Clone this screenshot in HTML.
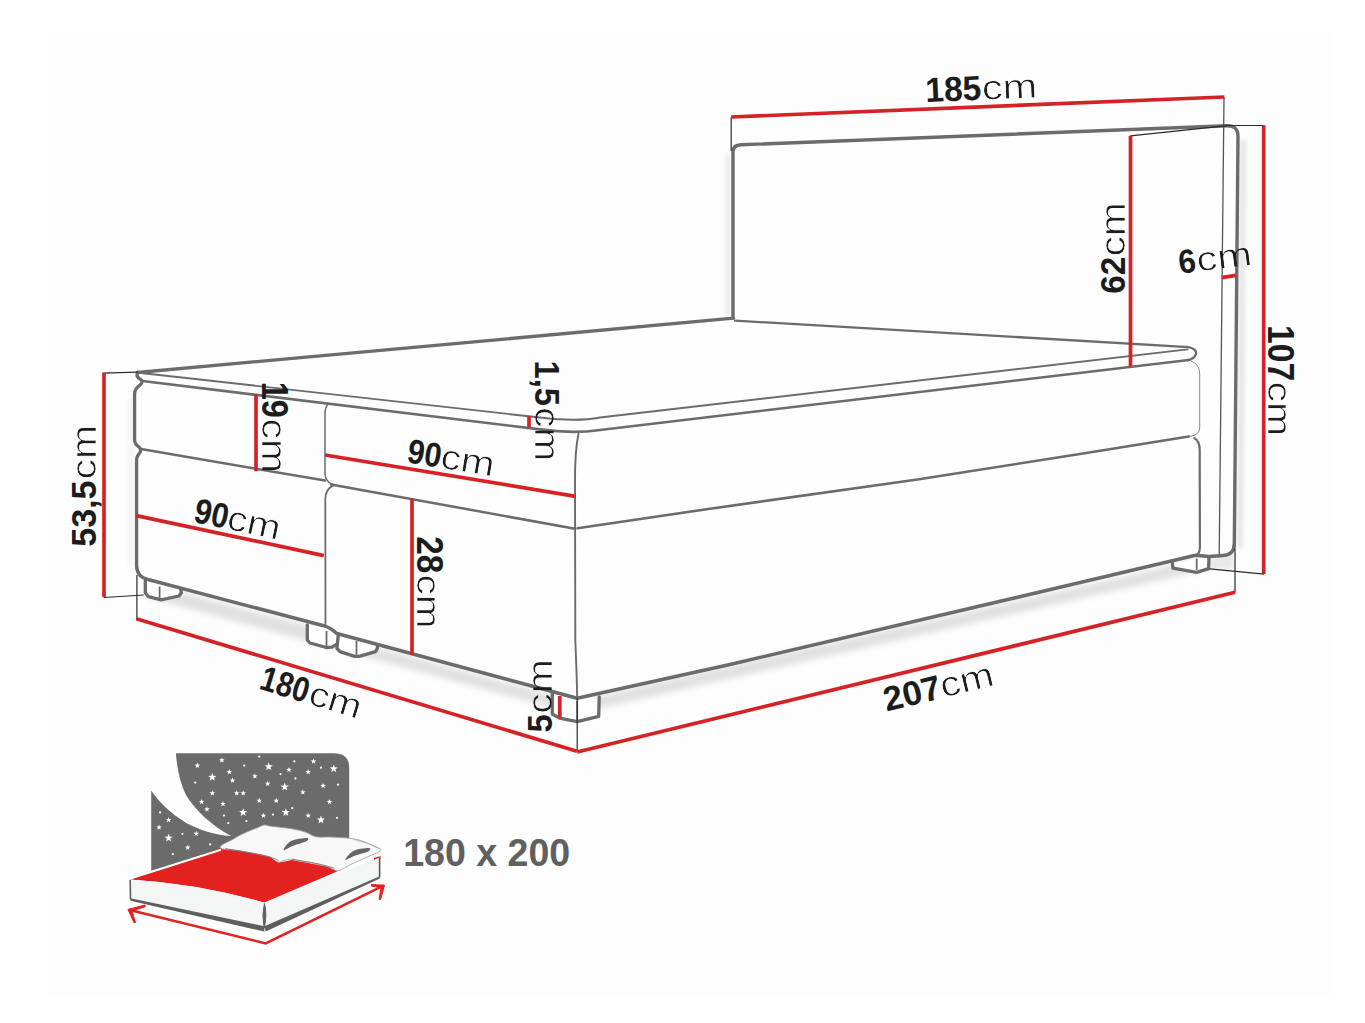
<!DOCTYPE html>
<html><head><meta charset="utf-8"><style>
html,body{margin:0;padding:0;background:#fff;}
body{width:1365px;height:1023px;overflow:hidden;font-family:"Liberation Sans",sans-serif;}
svg{display:block;}
</style></head><body>
<svg width="1365" height="1023" viewBox="0 0 1365 1023">
<rect width="1365" height="1023" fill="#ffffff"/>
<rect x="48" y="33" width="1284" height="962" fill="#fdfdfd"/>
<defs>
<filter id="blur3" x="-10%" y="-50%" width="120%" height="200%"><feGaussianBlur stdDeviation="3"/></filter>
<filter id="blur2" x="-10%" y="-50%" width="120%" height="200%"><feGaussianBlur stdDeviation="2"/></filter>
</defs>
<g filter="url(#blur3)" opacity="0.42">
<path d="M150 584 L325 630 L333 636 L575 701 L1196 560 L1196 572 L575 714 L333 648 L150 598 Z" fill="#b8b8b8"/>
</g>
<g filter="url(#blur2)" opacity="0.45">
<path d="M129 398 L133 398 L133 565 L129 565 Z" fill="#e2e2e2"/>
<path d="M726 155 L730 155 L730 316 L726 316 Z" fill="#c8c8c8"/>
<path d="M1240 140 L1246 140 L1243 548 L1237 548 Z" fill="#c8c8c8"/>
<path d="M1209 558 L1233 552 L1234 569 L1209 568.6 Z" fill="#cfcfcf"/>
</g>
<path d="M145.30 580.50 L145.30 592.80 L148.50 596.70 L161.00 599.90 L179.00 596.00 L181.30 592.80 L180.80 589.50 Z" fill="#fff"/>
<path d="M145.30 580.50 L145.30 592.80 L148.50 596.70 L161.00 599.90 L179.00 596.00 L181.30 592.80 L180.80 589.50" fill="none" stroke="#6b6b6b" stroke-width="3.30" stroke-linejoin="round" stroke-linecap="round" />
<line x1="159.60" y1="586.50" x2="159.60" y2="598.50" stroke="#6b6b6b" stroke-width="1.80"/>
<path d="M307.30 625.00 L307.30 640.00 L310.00 643.00 L326.30 647.50 L331.90 647.10 L337.50 643.90 L336.00 632.50 L331.50 630.00 L326.50 626.80 Z" fill="#fff"/>
<path d="M307.30 625.00 L307.30 640.00 L310.00 643.00 L326.30 647.50 L331.90 647.10 L337.50 643.90" fill="none" stroke="#6b6b6b" stroke-width="3.30" stroke-linejoin="round" stroke-linecap="round" />
<line x1="326.50" y1="631.00" x2="326.50" y2="647.00" stroke="#6b6b6b" stroke-width="1.80"/>
<path d="M338.30 634.50 L337.00 648.30 L340.00 651.60 L354.50 656.40 L359.30 656.40 L375.40 651.60 L377.40 648.30 L377.40 644.70 Z" fill="#fff"/>
<path d="M338.30 634.50 L337.00 648.30 L340.00 651.60 L354.50 656.40 L359.30 656.40 L375.40 651.60 L377.40 648.30 L377.40 644.70" fill="none" stroke="#6b6b6b" stroke-width="3.30" stroke-linejoin="round" stroke-linecap="round" />
<line x1="356.50" y1="641.00" x2="356.50" y2="655.00" stroke="#6b6b6b" stroke-width="1.80"/>
<path d="M552.30 691.70 L552.30 714.00 L559.40 718.10 L577.20 721.60 L598.70 716.30 L599.20 697.00 Z" fill="#fff"/>
<path d="M552.30 691.70 L552.30 714.00 L559.40 718.10 L577.20 721.60 L598.70 716.30 L599.20 697.00" fill="none" stroke="#6b6b6b" stroke-width="3.30" stroke-linejoin="round" stroke-linecap="round" />
<line x1="577.20" y1="701.00" x2="577.20" y2="720.00" stroke="#6b6b6b" stroke-width="1.80"/>
<path d="M1172.40 563.30 L1172.90 568.10 L1196.70 572.40 L1208.60 568.60 L1209.00 557.60 Z" fill="#fff"/>
<path d="M1172.40 563.30 L1172.90 568.10 L1196.70 572.40 L1208.60 568.60 L1209.00 557.60" fill="none" stroke="#6b6b6b" stroke-width="3.30" stroke-linejoin="round" stroke-linecap="round" />
<line x1="1196.70" y1="558.60" x2="1196.70" y2="570.00" stroke="#6b6b6b" stroke-width="1.80"/>
<path d="M733 318 L733 152 Q733 145 741 144.8 L1227 125.8 Q1238 125.5 1238 136 L1234.3 546" fill="none" stroke="#6b6b6b" stroke-width="3.40" stroke-linejoin="round" stroke-linecap="round" />
<line x1="1224.00" y1="97.00" x2="1219.20" y2="556.00" stroke="#555" stroke-width="1.30"/>
<path d="M137.50 372.50 L733.50 318.20" fill="none" stroke="#6b6b6b" stroke-width="3.30" stroke-linejoin="round" stroke-linecap="round" />
<path d="M735 320.6 L1188.5 347.1 Q1197 349 1196 354 Q1194 359 1188 360.2" fill="none" stroke="#6b6b6b" stroke-width="2.30" stroke-linejoin="round" stroke-linecap="round" />
<path d="M141 373 L540 417.5 Q577 422 600 417.5 L1187.5 349.4" fill="none" stroke="#6b6b6b" stroke-width="1.90" stroke-linejoin="round" stroke-linecap="round" />
<path d="M142.5 381 L540 429.4 Q572 434 600 430 L1188.75 360" fill="none" stroke="#6b6b6b" stroke-width="2.60" stroke-linejoin="round" stroke-linecap="round" />
<path d="M137.8 372.3 C136.3 375 137 377.5 140.2 379.2 C143.2 381 142.3 383.5 139.3 385.6 C135.6 388.3 134.6 390.5 134.6 394 L134.6 440 C134.6 443 136.2 445.2 139.2 447.2 C141.3 449 140.8 452 138.6 454.3 C137 456 136.6 457.5 136.6 461 L136.6 566 Q137 577 148 579.5" fill="none" stroke="#6b6b6b" stroke-width="3.30" stroke-linejoin="round" stroke-linecap="round" />
<path d="M148 579.5 L325.6 626.3 Q331 628 336.8 633.5 L577.2 698.2" fill="none" stroke="#6b6b6b" stroke-width="3.50" stroke-linejoin="round" stroke-linecap="round" />
<path d="M577.2 698.2 L730 664.5 L1060 587.3 L1195.7 555.3 L1209 556.4 L1223.5 555.4 Q1233.8 554.5 1234.2 545" fill="none" stroke="#6b6b6b" stroke-width="3.50" stroke-linejoin="round" stroke-linecap="round" />
<path d="M1191 361 Q1199.7 364 1199.7 374 L1199.7 428 Q1199.5 435 1190 436.5" fill="none" stroke="#8a8a8a" stroke-width="1.00" stroke-linejoin="round" stroke-linecap="round" />
<path d="M1194.4 438.2 Q1199.7 441 1199.7 450 L1199.9 546.9 Q1199.9 554 1195.5 555.7" fill="none" stroke="#6b6b6b" stroke-width="2.20" stroke-linejoin="round" stroke-linecap="round" />
<path d="M141.00 449.00 L325.00 480.60" fill="none" stroke="#6b6b6b" stroke-width="2.50" stroke-linejoin="round" stroke-linecap="round" />
<path d="M331 484.4 L575 528.8" fill="none" stroke="#6b6b6b" stroke-width="2.50" stroke-linejoin="round" stroke-linecap="round" />
<path d="M577.50 528.20 L710.00 508.75 L917.50 479.50 L1080.00 454.00 L1188.75 436.50" fill="none" stroke="#6b6b6b" stroke-width="2.60" stroke-linejoin="round" stroke-linecap="round" />
<path d="M327.5 404.4 Q325 408 325 414 L325 474 Q325.5 482 333 484.4" fill="none" stroke="#6b6b6b" stroke-width="1.50" stroke-linejoin="round" stroke-linecap="round" />
<path d="M333 485.6 Q325.5 489 325.3 499 L325.5 626" fill="none" stroke="#6b6b6b" stroke-width="1.80" stroke-linejoin="round" stroke-linecap="round" />
<path d="M578.5 434 Q575 450 575 480 L575.3 640 Q576.8 675 577.2 698" fill="none" stroke="#6b6b6b" stroke-width="1.90" stroke-linejoin="round" stroke-linecap="round" />
<line x1="731.20" y1="117.00" x2="731.20" y2="151.00" stroke="#2a2a2a" stroke-width="1.20"/>
<line x1="1130.40" y1="135.80" x2="1227.50" y2="125.60" stroke="#2a2a2a" stroke-width="1.20"/>
<line x1="1227.50" y1="125.50" x2="1264.30" y2="125.50" stroke="#2a2a2a" stroke-width="1.20"/>
<line x1="1209.60" y1="568.90" x2="1264.10" y2="574.10" stroke="#2a2a2a" stroke-width="1.20"/>
<line x1="102.50" y1="373.20" x2="137.50" y2="372.20" stroke="#2a2a2a" stroke-width="1.20"/>
<line x1="103.70" y1="597.50" x2="143.70" y2="595.00" stroke="#2a2a2a" stroke-width="1.20"/>
<line x1="136.90" y1="575.00" x2="136.90" y2="619.00" stroke="#2a2a2a" stroke-width="1.20"/>
<line x1="577.20" y1="698.00" x2="577.20" y2="751.00" stroke="#2a2a2a" stroke-width="1.20"/>
<line x1="1235.00" y1="548.60" x2="1235.00" y2="592.60" stroke="#2a2a2a" stroke-width="1.20"/>
<line x1="731.20" y1="117.00" x2="1224.30" y2="97.00" stroke="#d42226" stroke-width="3.70"/>
<line x1="1130.50" y1="135.80" x2="1130.50" y2="366.30" stroke="#d42226" stroke-width="3.70"/>
<line x1="1221.70" y1="277.70" x2="1235.70" y2="275.40" stroke="#d42226" stroke-width="3.70"/>
<line x1="1263.70" y1="125.30" x2="1263.70" y2="574.10" stroke="#d42226" stroke-width="3.70"/>
<line x1="104.00" y1="373.00" x2="104.00" y2="597.00" stroke="#d42226" stroke-width="3.70"/>
<line x1="256.00" y1="394.40" x2="256.00" y2="471.20" stroke="#d42226" stroke-width="3.70"/>
<line x1="529.00" y1="416.00" x2="529.00" y2="427.50" stroke="#d42226" stroke-width="3.70"/>
<line x1="136.30" y1="515.60" x2="323.80" y2="555.60" stroke="#d42226" stroke-width="3.70"/>
<line x1="325.00" y1="455.00" x2="575.60" y2="496.30" stroke="#d42226" stroke-width="3.70"/>
<line x1="412.00" y1="498.80" x2="412.00" y2="655.00" stroke="#d42226" stroke-width="3.70"/>
<line x1="559.80" y1="696.00" x2="559.80" y2="718.00" stroke="#d42226" stroke-width="3.70"/>
<line x1="136.30" y1="618.80" x2="577.00" y2="751.30" stroke="#d42226" stroke-width="3.70"/>
<line x1="577.20" y1="752.00" x2="1235.10" y2="592.30" stroke="#d42226" stroke-width="3.70"/>
<g transform="translate(927.90 102.00) rotate(-2.30)">
<text x="-2.12" y="0" font-family="Liberation Sans" font-weight="bold" font-size="34.57" fill="#1c1c1c" textLength="56.05" lengthAdjust="spacingAndGlyphs">185</text>
<mask id="mk67"><text x="54.38" y="0" font-family="Liberation Sans" font-size="34.76" fill="#fff" stroke="#000" stroke-width="0.70" textLength="55.41" lengthAdjust="spacingAndGlyphs">cm</text></mask>
<text x="54.38" y="0" font-family="Liberation Sans" font-size="34.76" fill="#1c1c1c" textLength="55.41" lengthAdjust="spacingAndGlyphs" mask="url(#mk67)">cm</text>
</g>
<g transform="translate(1180.90 273.70) rotate(-7.00)">
<text x="-1.15" y="0" font-family="Liberation Sans" font-weight="bold" font-size="33.57" fill="#1c1c1c" textLength="17.49" lengthAdjust="spacingAndGlyphs">6</text>
<mask id="mk72"><text x="17.08" y="0" font-family="Liberation Sans" font-size="33.83" fill="#fff" stroke="#000" stroke-width="0.70" textLength="55.62" lengthAdjust="spacingAndGlyphs">cm</text></mask>
<text x="17.08" y="0" font-family="Liberation Sans" font-size="33.83" fill="#1c1c1c" textLength="55.62" lengthAdjust="spacingAndGlyphs" mask="url(#mk72)">cm</text>
</g>
<g transform="translate(1124.90 292.50) rotate(-90.00)">
<text x="-1.22" y="0" font-family="Liberation Sans" font-weight="bold" font-size="35.57" fill="#1c1c1c" textLength="36.95" lengthAdjust="spacingAndGlyphs">62</text>
<mask id="mk77"><text x="35.92" y="0" font-family="Liberation Sans" font-size="34.76" fill="#fff" stroke="#000" stroke-width="0.70" textLength="54.32" lengthAdjust="spacingAndGlyphs">cm</text></mask>
<text x="35.92" y="0" font-family="Liberation Sans" font-size="34.76" fill="#1c1c1c" textLength="54.32" lengthAdjust="spacingAndGlyphs" mask="url(#mk77)">cm</text>
</g>
<g transform="translate(1268.40 327.20) rotate(90.00)">
<text x="-2.12" y="0" font-family="Liberation Sans" font-weight="bold" font-size="36.86" fill="#1c1c1c" textLength="56.20" lengthAdjust="spacingAndGlyphs">107</text>
<mask id="mk82"><text x="54.21" y="0" font-family="Liberation Sans" font-size="33.83" fill="#fff" stroke="#000" stroke-width="0.70" textLength="54.64" lengthAdjust="spacingAndGlyphs">cm</text></mask>
<text x="54.21" y="0" font-family="Liberation Sans" font-size="33.83" fill="#1c1c1c" textLength="54.64" lengthAdjust="spacingAndGlyphs" mask="url(#mk82)">cm</text>
</g>
<g transform="translate(96.30 545.80) rotate(-90.00)">
<text x="-1.05" y="0" font-family="Liberation Sans" font-weight="bold" font-size="35.29" fill="#1c1c1c" textLength="66.40" lengthAdjust="spacingAndGlyphs">53,5</text>
<mask id="mk87"><text x="66.42" y="0" font-family="Liberation Sans" font-size="35.69" fill="#fff" stroke="#000" stroke-width="0.70" textLength="54.43" lengthAdjust="spacingAndGlyphs">cm</text></mask>
<text x="66.42" y="0" font-family="Liberation Sans" font-size="35.69" fill="#1c1c1c" textLength="54.43" lengthAdjust="spacingAndGlyphs" mask="url(#mk87)">cm</text>
</g>
<g transform="translate(262.10 383.70) rotate(90.00)">
<text x="-2.05" y="0" font-family="Liberation Sans" font-weight="bold" font-size="36.57" fill="#1c1c1c" textLength="36.15" lengthAdjust="spacingAndGlyphs">19</text>
<mask id="mk92"><text x="34.92" y="0" font-family="Liberation Sans" font-size="34.20" fill="#fff" stroke="#000" stroke-width="0.70" textLength="54.43" lengthAdjust="spacingAndGlyphs">cm</text></mask>
<text x="34.92" y="0" font-family="Liberation Sans" font-size="34.20" fill="#1c1c1c" textLength="54.43" lengthAdjust="spacingAndGlyphs" mask="url(#mk92)">cm</text>
</g>
<g transform="translate(534.50 362.50) rotate(90.00)">
<text x="-2.06" y="0" font-family="Liberation Sans" font-weight="bold" font-size="34.57" fill="#1c1c1c" textLength="45.47" lengthAdjust="spacingAndGlyphs">1,5</text>
<mask id="mk97"><text x="44.73" y="0" font-family="Liberation Sans" font-size="34.39" fill="#fff" stroke="#000" stroke-width="0.70" textLength="53.99" lengthAdjust="spacingAndGlyphs">cm</text></mask>
<text x="44.73" y="0" font-family="Liberation Sans" font-size="34.39" fill="#1c1c1c" textLength="53.99" lengthAdjust="spacingAndGlyphs" mask="url(#mk97)">cm</text>
</g>
<g transform="translate(416.80 537.40) rotate(90.00)">
<text x="-1.16" y="0" font-family="Liberation Sans" font-weight="bold" font-size="37.43" fill="#1c1c1c" textLength="37.08" lengthAdjust="spacingAndGlyphs">28</text>
<mask id="mk102"><text x="37.13" y="0" font-family="Liberation Sans" font-size="33.27" fill="#fff" stroke="#000" stroke-width="0.70" textLength="53.99" lengthAdjust="spacingAndGlyphs">cm</text></mask>
<text x="37.13" y="0" font-family="Liberation Sans" font-size="33.27" fill="#1c1c1c" textLength="53.99" lengthAdjust="spacingAndGlyphs" mask="url(#mk102)">cm</text>
</g>
<g transform="translate(551.70 731.40) rotate(-90.00)">
<text x="-1.01" y="0" font-family="Liberation Sans" font-weight="bold" font-size="35.29" fill="#1c1c1c" textLength="18.22" lengthAdjust="spacingAndGlyphs">5</text>
<mask id="mk107"><text x="17.72" y="0" font-family="Liberation Sans" font-size="35.69" fill="#fff" stroke="#000" stroke-width="0.70" textLength="54.43" lengthAdjust="spacingAndGlyphs">cm</text></mask>
<text x="17.72" y="0" font-family="Liberation Sans" font-size="35.69" fill="#1c1c1c" textLength="54.43" lengthAdjust="spacingAndGlyphs" mask="url(#mk107)">cm</text>
</g>
<g transform="translate(193.50 522.00) rotate(12.00)">
<text x="-1.07" y="0" font-family="Liberation Sans" font-weight="bold" font-size="35.00" fill="#1c1c1c" textLength="34.34" lengthAdjust="spacingAndGlyphs">90</text>
<mask id="mk112"><text x="32.74" y="0" font-family="Liberation Sans" font-size="34.76" fill="#fff" stroke="#000" stroke-width="0.70" textLength="53.56" lengthAdjust="spacingAndGlyphs">cm</text></mask>
<text x="32.74" y="0" font-family="Liberation Sans" font-size="34.76" fill="#1c1c1c" textLength="53.56" lengthAdjust="spacingAndGlyphs" mask="url(#mk112)">cm</text>
</g>
<g transform="translate(407.00 462.40) rotate(9.35)">
<text x="-1.06" y="0" font-family="Liberation Sans" font-weight="bold" font-size="34.29" fill="#1c1c1c" textLength="34.01" lengthAdjust="spacingAndGlyphs">90</text>
<mask id="mk117"><text x="32.58" y="0" font-family="Liberation Sans" font-size="34.76" fill="#fff" stroke="#000" stroke-width="0.70" textLength="54.10" lengthAdjust="spacingAndGlyphs">cm</text></mask>
<text x="32.58" y="0" font-family="Liberation Sans" font-size="34.76" fill="#1c1c1c" textLength="54.10" lengthAdjust="spacingAndGlyphs" mask="url(#mk117)">cm</text>
</g>
<g transform="translate(259.70 689.10) rotate(17.00)">
<text x="-1.87" y="0" font-family="Liberation Sans" font-weight="bold" font-size="35.00" fill="#1c1c1c" textLength="49.48" lengthAdjust="spacingAndGlyphs">180</text>
<mask id="mk122"><text x="49.15" y="0" font-family="Liberation Sans" font-size="34.76" fill="#fff" stroke="#000" stroke-width="0.70" textLength="53.45" lengthAdjust="spacingAndGlyphs">cm</text></mask>
<text x="49.15" y="0" font-family="Liberation Sans" font-size="34.76" fill="#1c1c1c" textLength="53.45" lengthAdjust="spacingAndGlyphs" mask="url(#mk122)">cm</text>
</g>
<g transform="translate(887.70 711.30) rotate(-13.70)">
<text x="-1.21" y="0" font-family="Liberation Sans" font-weight="bold" font-size="34.29" fill="#1c1c1c" textLength="58.24" lengthAdjust="spacingAndGlyphs">207</text>
<mask id="mk127"><text x="56.92" y="0" font-family="Liberation Sans" font-size="34.76" fill="#fff" stroke="#000" stroke-width="0.70" textLength="54.21" lengthAdjust="spacingAndGlyphs">cm</text></mask>
<text x="56.92" y="0" font-family="Liberation Sans" font-size="34.76" fill="#1c1c1c" textLength="54.21" lengthAdjust="spacingAndGlyphs" mask="url(#mk127)">cm</text>
</g>
<g id="icon">
<path d="M175.9 753.2 L334 753.2 Q349.2 753.2 349.2 768 L349.2 836 L231.1 836.1 C212 826 195 810 186 795 C180 783 177 768 175.9 753.2 Z" fill="#6b6b6b"/>
<path d="M151.2 790.5 C158 801 170 813 186.2 822.9 C200 830 214 834.5 231.1 836.1 L349.2 836 L349.2 846 L151.2 871 Z" fill="#6b6b6b"/>
<path d="M197.36 762.67 L198.08 764.58 L200.12 764.67 L198.52 765.95 L199.07 767.92 L197.36 766.79 L195.66 767.92 L196.21 765.95 L194.61 764.67 L196.65 764.58 Z" fill="#fff"/>
<path d="M221.87 757.34 L222.58 759.26 L224.63 759.35 L223.03 760.62 L223.57 762.59 L221.87 761.46 L220.16 762.59 L220.71 760.62 L219.11 759.35 L221.15 759.26 Z" fill="#fff"/>
<path d="M268.75 762.34 L269.81 765.17 L272.84 765.31 L270.46 767.19 L271.27 770.11 L268.75 768.44 L266.22 770.11 L267.03 767.19 L264.66 765.31 L267.69 765.17 Z" fill="#fff"/>
<path d="M333.74 764.47 L334.80 767.31 L337.83 767.44 L335.46 769.32 L336.26 772.25 L333.74 770.57 L331.21 772.25 L332.02 769.32 L329.65 767.44 L332.68 767.31 Z" fill="#fff"/>
<path d="M313.49 758.41 L314.21 760.32 L316.25 760.41 L314.65 761.68 L315.20 763.65 L313.49 762.53 L311.79 763.65 L312.34 761.68 L310.74 760.41 L312.78 760.32 Z" fill="#fff"/>
<path d="M212.28 772.99 L213.34 775.83 L216.37 775.96 L214.00 777.85 L214.81 780.77 L212.28 779.10 L209.75 780.77 L210.56 777.85 L208.19 775.96 L211.22 775.83 Z" fill="#fff"/>
<path d="M229.33 769.06 L230.04 770.98 L232.08 771.07 L230.49 772.34 L231.03 774.31 L229.33 773.18 L227.62 774.31 L228.17 772.34 L226.57 771.07 L228.61 770.98 Z" fill="#fff"/>
<path d="M232.52 777.59 L233.24 779.50 L235.28 779.59 L233.68 780.86 L234.23 782.83 L232.52 781.70 L230.82 782.83 L231.36 780.86 L229.76 779.59 L231.81 779.50 Z" fill="#fff"/>
<circle cx="244.2" cy="765.6" r="1.1" fill="#fff"/>
<circle cx="259.2" cy="756.6" r="1.1" fill="#fff"/>
<circle cx="294.3" cy="761.3" r="1.1" fill="#fff"/>
<path d="M288.99 766.93 L289.71 768.85 L291.75 768.94 L290.15 770.21 L290.69 772.18 L288.99 771.05 L287.29 772.18 L287.83 770.21 L286.23 768.94 L288.27 768.85 Z" fill="#fff"/>
<path d="M254.90 773.32 L255.61 775.24 L257.65 775.33 L256.06 776.60 L256.60 778.57 L254.90 777.44 L253.19 778.57 L253.74 776.60 L252.14 775.33 L254.18 775.24 Z" fill="#fff"/>
<path d="M267.68 780.78 L268.40 782.70 L270.44 782.79 L268.84 784.06 L269.39 786.03 L267.68 784.90 L265.98 786.03 L266.52 784.06 L264.92 782.79 L266.97 782.70 Z" fill="#fff"/>
<path d="M284.73 782.58 L285.79 785.42 L288.82 785.55 L286.45 787.44 L287.26 790.36 L284.73 788.68 L282.20 790.36 L283.01 787.44 L280.64 785.55 L283.67 785.42 Z" fill="#fff"/>
<path d="M308.17 769.06 L308.88 770.98 L310.93 771.07 L309.33 772.34 L309.87 774.31 L308.17 773.18 L306.46 774.31 L307.01 772.34 L305.41 771.07 L307.45 770.98 Z" fill="#fff"/>
<path d="M323.08 782.91 L323.80 784.83 L325.84 784.92 L324.24 786.19 L324.79 788.16 L323.08 787.03 L321.38 788.16 L321.92 786.19 L320.33 784.92 L322.37 784.83 Z" fill="#fff"/>
<circle cx="321.0" cy="767.7" r="1.1" fill="#fff"/>
<circle cx="280.5" cy="774.1" r="1.1" fill="#fff"/>
<circle cx="295.4" cy="778.4" r="1.1" fill="#fff"/>
<circle cx="338.0" cy="784.7" r="1.1" fill="#fff"/>
<circle cx="195.2" cy="782.6" r="1.1" fill="#fff"/>
<path d="M212.28 790.37 L213.00 792.29 L215.04 792.37 L213.44 793.65 L213.98 795.62 L212.28 794.49 L210.58 795.62 L211.12 793.65 L209.52 792.37 L211.56 792.29 Z" fill="#fff"/>
<path d="M236.78 790.37 L237.50 792.29 L239.54 792.37 L237.94 793.65 L238.49 795.62 L236.78 794.49 L235.08 795.62 L235.63 793.65 L234.03 792.37 L236.07 792.29 Z" fill="#fff"/>
<path d="M243.18 790.37 L243.89 792.29 L245.94 792.37 L244.34 793.65 L244.88 795.62 L243.18 794.49 L241.47 795.62 L242.02 793.65 L240.42 792.37 L242.46 792.29 Z" fill="#fff"/>
<path d="M259.16 797.83 L259.87 799.74 L261.92 799.83 L260.32 801.11 L260.86 803.07 L259.16 801.95 L257.45 803.07 L258.00 801.11 L256.40 799.83 L258.44 799.74 Z" fill="#fff"/>
<path d="M276.20 797.83 L276.92 799.74 L278.96 799.83 L277.36 801.11 L277.91 803.07 L276.20 801.95 L274.50 803.07 L275.05 801.11 L273.45 799.83 L275.49 799.74 Z" fill="#fff"/>
<path d="M302.84 789.31 L303.56 791.22 L305.60 791.31 L304.00 792.58 L304.54 794.55 L302.84 793.42 L301.14 794.55 L301.68 792.58 L300.08 791.31 L302.12 791.22 Z" fill="#fff"/>
<path d="M329.48 798.89 L330.19 800.81 L332.23 800.90 L330.63 802.17 L331.18 804.14 L329.48 803.01 L327.77 804.14 L328.32 802.17 L326.72 800.90 L328.76 800.81 Z" fill="#fff"/>
<path d="M201.63 798.89 L202.34 800.81 L204.38 800.90 L202.78 802.17 L203.33 804.14 L201.63 803.01 L199.92 804.14 L200.47 802.17 L198.87 800.90 L200.91 800.81 Z" fill="#fff"/>
<path d="M206.95 806.35 L207.67 808.27 L209.71 808.36 L208.11 809.63 L208.66 811.60 L206.95 810.47 L205.25 811.60 L205.79 809.63 L204.19 808.36 L206.24 808.27 Z" fill="#fff"/>
<path d="M222.93 801.02 L223.65 802.94 L225.69 803.03 L224.09 804.30 L224.64 806.27 L222.93 805.14 L221.23 806.27 L221.78 804.30 L220.18 803.03 L222.22 802.94 Z" fill="#fff"/>
<path d="M243.18 808.15 L244.24 810.99 L247.27 811.12 L244.89 813.01 L245.70 815.93 L243.18 814.25 L240.65 815.93 L241.46 813.01 L239.09 811.12 L242.12 810.99 Z" fill="#fff"/>
<path d="M263.42 812.74 L264.14 814.66 L266.18 814.75 L264.58 816.02 L265.12 817.99 L263.42 816.86 L261.72 817.99 L262.26 816.02 L260.66 814.75 L262.70 814.66 Z" fill="#fff"/>
<path d="M285.79 808.15 L286.86 810.99 L289.88 811.12 L287.51 813.01 L288.32 815.93 L285.79 814.25 L283.27 815.93 L284.08 813.01 L281.70 811.12 L284.73 810.99 Z" fill="#fff"/>
<path d="M308.17 812.74 L308.88 814.66 L310.93 814.75 L309.33 816.02 L309.87 817.99 L308.17 816.86 L306.46 817.99 L307.01 816.02 L305.41 814.75 L307.45 814.66 Z" fill="#fff"/>
<path d="M320.95 815.61 L322.01 818.45 L325.04 818.58 L322.67 820.46 L323.48 823.39 L320.95 821.71 L318.43 823.39 L319.23 820.46 L316.86 818.58 L319.89 818.45 Z" fill="#fff"/>
<circle cx="336.9" cy="817.8" r="1.1" fill="#fff"/>
<circle cx="292.2" cy="808.2" r="1.1" fill="#fff"/>
<circle cx="273.0" cy="814.6" r="1.1" fill="#fff"/>
<circle cx="246.4" cy="821.0" r="1.1" fill="#fff"/>
<circle cx="228.3" cy="823.1" r="1.1" fill="#fff"/>
<circle cx="224.0" cy="815.6" r="1.1" fill="#fff"/>
<circle cx="160.1" cy="812.4" r="1.1" fill="#fff"/>
<path d="M168.60 817.01 L169.31 818.92 L171.36 819.01 L169.76 820.28 L170.30 822.25 L168.60 821.12 L166.89 822.25 L167.44 820.28 L165.84 819.01 L167.88 818.92 Z" fill="#fff"/>
<path d="M159.01 824.46 L159.73 826.38 L161.77 826.47 L160.17 827.74 L160.71 829.71 L159.01 828.58 L157.30 829.71 L157.85 827.74 L156.25 826.47 L158.29 826.38 Z" fill="#fff"/>
<path d="M168.60 833.72 L169.66 836.56 L172.69 836.69 L170.32 838.58 L171.13 841.50 L168.60 839.82 L166.07 841.50 L166.88 838.58 L164.51 836.69 L167.54 836.56 Z" fill="#fff"/>
<circle cx="182.4" cy="833.8" r="1.1" fill="#fff"/>
<path d="M196.30 830.86 L197.01 832.77 L199.06 832.86 L197.46 834.13 L198.00 836.10 L196.30 834.97 L194.59 836.10 L195.14 834.13 L193.54 832.86 L195.58 832.77 Z" fill="#fff"/>
<path d="M187.78 844.71 L188.49 846.62 L190.53 846.71 L188.93 847.98 L189.48 849.95 L187.78 848.83 L186.07 849.95 L186.62 847.98 L185.02 846.71 L187.06 846.62 Z" fill="#fff"/>
<circle cx="172.9" cy="854.0" r="1.1" fill="#fff"/>
<circle cx="210.1" cy="844.4" r="1.1" fill="#fff"/>
<path d="M129.9 879.4 L221 848 L241 850.5 L269 856 L279 862.5 L292 860 L327 866.5 L338 871 L333.5 873 L264.4 902.5 Q196 883.3 129.9 879.4 Z" fill="#e3221f"/>
<path d="M374 858 L380.5 856 L380.5 858.5 L374 860.5 Z" fill="#e3221f"/>
<path d="M131 878.2 L221 849.8" stroke="#fff" stroke-width="2"/>
<path d="M129.9 879.6 Q196 883.5 264.4 902.6 L264.4 927.5 L130.5 899.5 Z" fill="#f4f5f5"/>
<path d="M130.2 880 L130.5 899.5" stroke="#5e5e5e" stroke-width="1.6"/>
<path d="M264.4 902.9 L379.8 857.6 L379.8 877 L265.7 928 Z" fill="#f4f5f5"/>
<path d="M379.6 857.6 L379.6 877" stroke="#555" stroke-width="1.6"/>
<path d="M130.5 898.3 L264.4 926.2 L264.4 931.6 L130.5 900.8 Z" fill="#5e5e5e"/>
<path d="M264.4 926.2 L379.8 876.2 L379.8 878.4 L265.7 931.6 Z" fill="#5e5e5e"/>
<path d="M264.4 903.5 Q261.6 915 264.2 928 Q267.4 915 264.4 903.5 Z" fill="#5e5e5e" stroke="#5e5e5e" stroke-width="1"/>
<path d="M220.13 847.05 C220.13 846.13 222.05 845.02 223.97 843.85 C225.90 842.67 228.68 841.60 231.67 840.00 C234.66 838.40 237.65 836.26 241.92 834.23 C246.20 832.20 253.57 829.36 257.31 827.82 C261.05 826.28 262.01 825.26 264.36 825.00 C266.71 824.74 266.82 825.64 271.41 826.28 C276.00 826.92 286.15 827.84 291.92 828.85 C297.69 829.85 301.97 830.98 306.03 832.31 C310.09 833.63 312.22 836.00 316.28 836.79 C320.34 837.59 324.83 836.79 330.38 837.05 C335.94 837.31 344.49 837.74 349.62 838.33 C354.74 838.93 356.67 839.19 361.15 840.64 C365.64 842.09 373.23 845.51 376.54 847.05 C379.85 848.59 380.81 848.97 381.03 849.87 C381.24 850.77 379.85 851.37 377.82 852.44 C375.79 853.50 373.33 854.29 368.85 856.28 C364.36 858.27 355.17 862.31 350.90 864.36 C346.62 866.41 345.45 867.50 343.21 868.59 C340.96 869.68 339.25 870.85 337.44 870.90 C335.62 870.94 334.34 869.66 332.31 868.85 C330.28 868.03 331.56 867.52 325.26 866.03 C318.95 864.53 301.22 860.85 294.49 859.87 C287.76 858.89 287.54 859.74 284.87 860.13 C282.20 860.51 280.38 862.33 278.46 862.18 C276.54 862.03 275.15 860.21 273.33 859.23 C271.52 858.25 273.01 857.67 267.56 856.28 C262.12 854.89 247.91 852.05 240.64 850.90 C233.38 849.74 227.39 850.00 223.97 849.36 C220.56 848.72 220.13 847.97 220.13 847.05 Z" fill="#f8f8f8" stroke="#9a9a9a" stroke-width="0.8"/>
<path d="M225.26 848.59 C229.96 849.40 245.56 851.90 253.46 853.46 C261.37 855.02 268.42 856.67 272.69 857.95 C276.97 859.23 278.03 860.62 279.10 861.15" fill="none" stroke="#777" stroke-width="0.9"/>
<path d="M291.92 859.23 C296.20 859.98 310.51 862.22 317.56 863.72 C324.62 865.21 331.45 867.46 334.23 868.21" fill="none" stroke="#777" stroke-width="0.9"/>
<path d="M353.46 839.36 C356.03 840.11 364.57 842.31 368.85 843.85 C373.12 845.38 377.39 847.80 379.10 848.59" fill="none" stroke="#999" stroke-width="0.7"/>
<path d="M283.59 850.26 C283.16 849.51 286.79 843.31 290.64 841.28 C294.49 839.25 304.06 838.08 306.67 838.08 C309.27 838.08 308.53 840.00 306.28 841.28 C304.04 842.56 296.99 844.27 293.21 845.77 C289.42 847.26 284.02 851.00 283.59 850.26 Z" fill="#666"/>
<path d="M345.13 859.87 C344.91 859.06 349.51 852.86 353.46 850.90 C357.41 848.93 366.39 847.97 368.85 848.08 C371.30 848.18 370.56 850.26 368.21 851.54 C365.85 852.82 358.59 854.38 354.74 855.77 C350.90 857.16 345.34 860.68 345.13 859.87 Z" fill="#666"/>
<path d="M128.7 909.7 L265.7 943.4 L384 885.4" fill="none" stroke="#e3221f" stroke-width="2.6" stroke-linejoin="miter"/>
<path d="M128 909.5 L144.9 905 L145.5 906.6 L132 911 L135.5 922.5 L134 922.8 Z" fill="#e3221f" stroke="#e3221f" stroke-width="1"/>
<path d="M384.5 885.3 L371.5 884.5 L371.6 886.2 L381 887.5 L379 899.3 L380.6 899.4 Z" fill="#e3221f" stroke="#e3221f" stroke-width="1"/>
</g>
<text x="403.2" y="865.7" font-family="Liberation Sans" font-weight="bold" font-size="38" fill="#606060" textLength="167" lengthAdjust="spacingAndGlyphs">180 x 200</text>
</svg>
</body></html>
